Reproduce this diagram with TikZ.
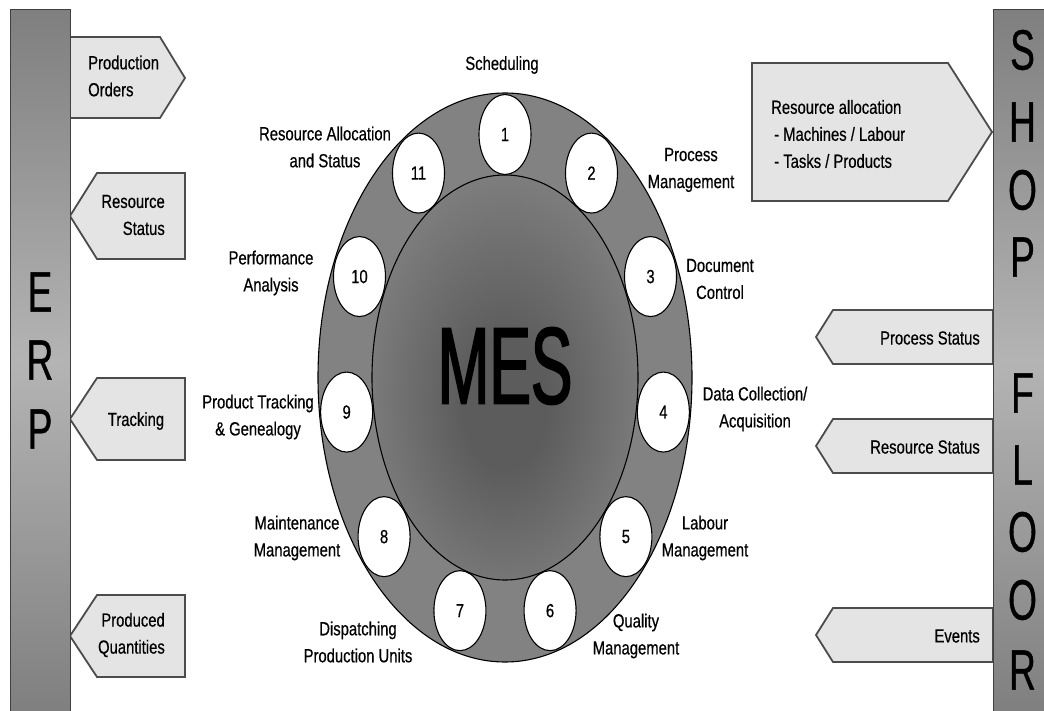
\documentclass[tikz,border=0pt]{standalone}
\usepackage{fontspec}
\setmainfont{Liberation Sans}[FakeStretch=0.78,FakeBold=0.5]
\newfontfamily\mesfont{Liberation Sans}[FakeStretch=0.57,FakeBold=1.6]
\newfontfamily\barfont{Liberation Sans}[FakeStretch=0.65,FakeBold=0.6]
\usetikzlibrary{shapes.geometric}

\definecolor{innerdark}{HTML}{5C5C5C}
\definecolor{innerlight}{HTML}{A6A6A6}
\definecolor{ringA}{HTML}{828282}
\definecolor{ringB}{HTML}{6C6C6C}
\definecolor{bardark}{HTML}{4A4A4A}
\definecolor{barlight}{HTML}{B4B4B4}
\definecolor{arrowfill}{HTML}{E4E4E4}
\definecolor{arrowline}{HTML}{4C4C4C}

\pgfdeclareradialshading{messhade}{\pgfpoint{0bp}{-4bp}}{color(0bp)=(innerdark); color(8bp)=(innerdark); color(50bp)=(innerlight)}
\pgfdeclareradialshading{ringshade}{\pgfpointorigin}{color(0bp)=(ringA); color(36bp)=(ringA); color(50bp)=(ringB)}
\pgfdeclareverticalshading{barshade}{100bp}{color(0bp)=(bardark); color(50bp)=(barlight); color(100bp)=(bardark)}

\begin{document}
\begin{tikzpicture}[x=1pt,y=-1pt,
  lbl/.style={font=\fontsize{19}{27}\selectfont, align=center, inner sep=0pt},
  arrowbox/.style={draw=arrowline, line width=1.8pt, fill=arrowfill, line join=miter},
  numcirc/.style={ellipse, draw=black, line width=1.1pt, fill=white, minimum width=52pt, minimum height=80pt, inner sep=0pt, font=\fontsize{19}{19}\selectfont},
  barletter/.style={font=\barfont\fontsize{57}{57}\selectfont, inner sep=0pt},
  bar/.style={draw=black!75, line width=1pt, shading=barshade}
]
\useasboundingbox (0,0) rectangle (1044,711);
\fill[white] (0,0) rectangle (1044,711);

% ERP side arrows
\draw[arrowbox] (70,37) -- (160,37) -- (185,78) -- (160,118) -- (70,118) -- cycle;
\draw[arrowbox] (70,216) -- (97,173) -- (185,173) -- (185,259) -- (97,259) -- cycle;
\draw[arrowbox] (70,419) -- (97,378) -- (185,378) -- (185,460) -- (97,460) -- cycle;
\draw[arrowbox] (70,636) -- (97,595) -- (185,595) -- (185,677) -- (97,677) -- cycle;

% Shop floor side arrows
\draw[arrowbox] (752,63) -- (948,63) -- (992,132) -- (948,201) -- (752,201) -- cycle;
\draw[arrowbox] (816,337) -- (833,310) -- (993,310) -- (993,364) -- (833,364) -- cycle;
\draw[arrowbox] (816,446) -- (833,419) -- (993,419) -- (993,473) -- (833,473) -- cycle;
\draw[arrowbox] (816,635) -- (833,608) -- (993,608) -- (993,662) -- (833,662) -- cycle;

% bars
\path[bar] (10,10) rectangle (70,714);
\path[bar] (993,10) rectangle (1048,714);

\node[barletter] (erpE) at (40,292) {E};
\node[barletter] (erpR) at (40,360) {R};
\node[barletter] (erpP) at (40,429) {P};

\node[barletter] (sfS) at (1022.5,50) {S};
\node[barletter] (sfH) at (1022.5,122) {H};
\node[barletter] (sfO) at (1022.5,190) {O};
\node[barletter] (sfP) at (1022.5,257) {P};
\node[barletter] (sfF) at (1022.5,393) {F};
\node[barletter] (sfL) at (1022.5,465) {L};
\node[barletter] (sfO2) at (1022.5,532) {O};
\node[barletter] (sfO3) at (1022.5,600) {O};
\node[barletter] (sfR) at (1022.5,670) {R};

% MES ellipses
\path[draw=black, line width=1.1pt, shading=ringshade] (505,377.5) ellipse [x radius=187pt, y radius=284.5pt];
\path[draw=black, line width=1.1pt, shading=messhade] (505,377.5) ellipse [x radius=133pt, y radius=202.5pt];
\node[font=\mesfont\fontsize{109}{109}\selectfont, inner sep=0pt] (mes) at (505,366) {MES};

\foreach \k in {1,...,11} {
  \pgfmathsetmacro\ang{-90+(\k-1)*360/11}
  \node[numcirc] (n\k) at ([shift={(\ang:160 and 243)}]505,377.5) {\k};
}

% function labels
\node[lbl] (l1) at (502,65) {Scheduling};
\node[lbl] (l2) at (691,170) {Process\\Management};
\node[lbl] (l3) at (720,279) {Document\\Control};
\node[lbl] (l4) at (755,409) {Data Collection/\\Acquisition};
\node[lbl] (l5) at (705,538) {Labour\\Management};
\node[lbl] (l6) at (636,636) {Quality\\Management};
\node[lbl] (l7) at (358,642) {Dispatching\\Production Units};
\node[lbl] (l8) at (297,538) {Maintenance\\Management};
\node[lbl] (l9) at (258,417) {Product Tracking\\\& Genealogy};
\node[lbl] (l10) at (271,273) {Performance\\Analysis};
\node[lbl] (l11) at (325,147) {Resource Allocation\\and Status};

% arrow texts
\node[lbl, align=left, anchor=west] (tpo) at (88,76) {Production\\Orders};
\node[lbl, align=right, anchor=east] (trs) at (165,215) {Resource\\Status};
\node[lbl] (ttr) at (136,421) {Tracking};
\node[lbl, align=right, anchor=east] (tpq) at (165,635) {Produced\\Quantities};
\node[lbl, align=left, anchor=west] (tra) at (771,134) {Resource allocation\\\hspace{3pt}- Machines / Labour\\\hspace{3pt}- Tasks / Products};
\node[lbl, anchor=east] (tps) at (980,338) {Process Status};
\node[lbl, anchor=east] (trs2) at (980,447) {Resource Status};
\node[lbl, anchor=east] (tev) at (980,636) {Events};
\end{tikzpicture}
\end{document}
